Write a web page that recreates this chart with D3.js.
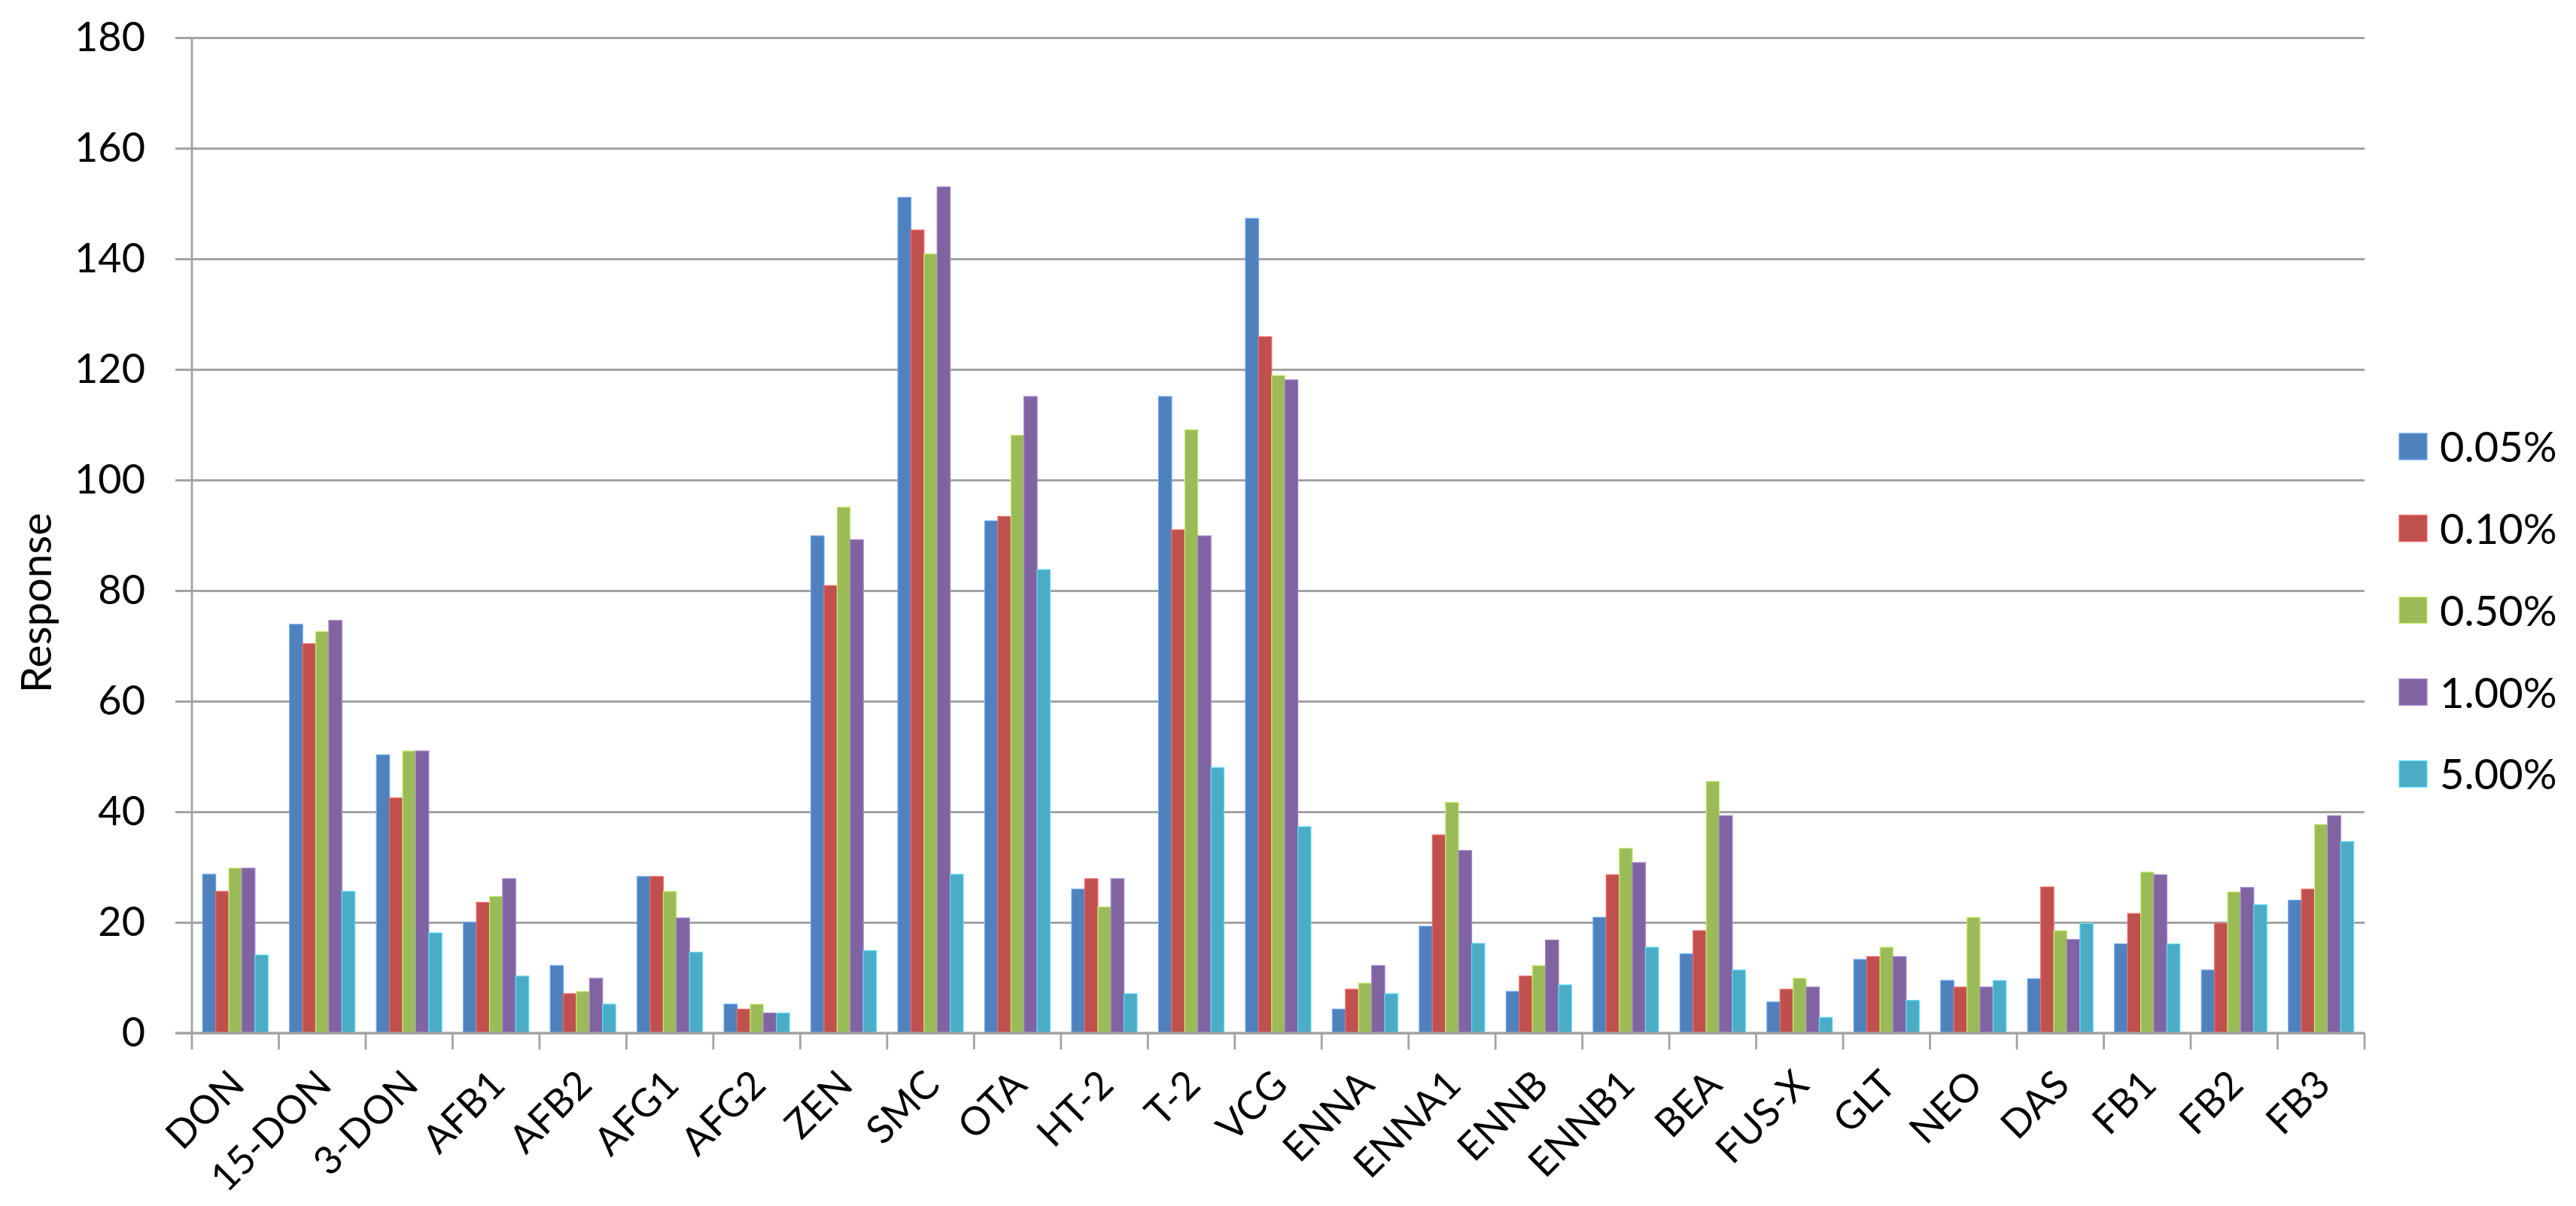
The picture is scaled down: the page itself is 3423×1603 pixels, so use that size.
<!DOCTYPE html>
<html>
<head>
<meta charset="utf-8">
<script src="https://cdn.jsdelivr.net/npm/d3@7"></script>
<style>
  html, body { margin: 0; padding: 0; background: #ffffff; }
  svg { display: block; }
  text { font-family: Lato, "Noto Sans", sans-serif; fill: #000; }
</style>
</head>
<body>
<script>
// ---- data ----
const categories = ["DON","15-DON","3-DON","AFB1","AFB2","AFG1","AFG2","ZEN","SMC","OTA","HT-2","T-2","VCG","ENNA","ENNA1","ENNB","ENNB1","BEA","FUS-X","GLT","NEO","DAS","FB1","FB2","FB3"];
const seriesNames = ["0.05%","0.10%","0.50%","1.00%","5.00%"];
const s005 = [28.7, 73.9, 50.3, 20.0, 12.2, 28.3, 5.2, 89.9, 151.1, 92.6, 26.0, 115.1, 147.3, 4.3, 19.3, 7.5, 20.9, 14.3, 5.6, 13.3, 9.5, 9.8, 16.1, 11.4, 24.0];
const s010 = [25.6, 70.4, 42.5, 23.6, 7.1, 28.3, 4.3, 80.9, 145.2, 93.4, 27.9, 91.0, 125.9, 7.9, 35.8, 10.3, 28.6, 18.5, 7.9, 13.8, 8.3, 26.4, 21.6, 19.8, 26.0];
const s050 = [29.8, 72.6, 51.0, 24.7, 7.5, 25.6, 5.2, 95.1, 140.9, 108.1, 22.8, 109.1, 118.9, 9.0, 41.7, 12.2, 33.4, 45.5, 9.9, 15.5, 20.9, 18.5, 29.1, 25.5, 37.7];
const s100 = [29.8, 74.6, 51.0, 27.9, 9.9, 20.8, 3.6, 89.2, 153.0, 115.1, 27.9, 89.9, 118.1, 12.2, 33.0, 16.8, 30.8, 39.3, 8.3, 13.8, 8.3, 16.9, 28.6, 26.3, 39.3];
const s500 = [14.1, 25.6, 18.1, 10.3, 5.2, 14.6, 3.6, 14.9, 28.7, 83.8, 7.1, 48.0, 37.3, 7.1, 16.2, 8.7, 15.5, 11.4, 2.8, 5.9, 9.5, 19.8, 16.1, 23.2, 34.6];
const yTicks = [0, 20, 40, 60, 80, 100, 120, 140, 160, 180];
const yTitle = "Response";
const colors = ["#4F81BD", "#C0504D", "#9BBB59", "#8064A2", "#4BACC6"];

const seriesValues = [s005, s010, s050, s100, s500];

// ---- layout ----
const W = 3423, H = 1603;
const plot = { left: 255, right: 3142, top: 50, bottom: 1373 };
const gridColor = "#a3a3a3";

const svg = d3.select("body").append("svg").attr("width", W).attr("height", H);
svg.append("rect").attr("width", W).attr("height", H).attr("fill", "#fff");

const y = d3.scaleLinear().domain([0, 180]).range([plot.bottom, plot.top]);
const x = d3.scaleBand().domain(categories).range([plot.left, plot.right]).paddingInner(0).paddingOuter(0);
const x1 = d3.scaleBand().domain(seriesNames).range([0, x.bandwidth()]).paddingInner(0).paddingOuter(0.82);

// gridlines (extending left as tick marks)
const gridG = svg.append("g").attr("transform", `translate(${plot.right},0)`)
  .call(d3.axisLeft(y).tickValues(yTicks).tickSize(plot.right - plot.left + 22).tickFormat(""));
gridG.select(".domain").remove();
gridG.selectAll(".tick line").attr("stroke", gridColor).attr("stroke-width", 2.8);

// y tick labels
const yAx = svg.append("g").attr("transform", `translate(${plot.left},0)`)
  .call(d3.axisLeft(y).tickValues(yTicks).tickSize(0).tickPadding(62));
yAx.select(".domain").remove();
yAx.selectAll("text").attr("font-size", 54).attr("font-family", "Lato, sans-serif").attr("fill", "#000");

// bars
const groups = svg.append("g").selectAll("g").data(categories).join("g")
  .attr("transform", d => `translate(${x(d)},0)`);
groups.selectAll("rect")
  .data((c, i) => seriesNames.map((s, k) => ({ s, k, v: seriesValues[k][i] })))
  .join("rect")
  .attr("x", d => x1(d.s))
  .attr("width", x1.bandwidth())
  .attr("y", d => y(d.v))
  .attr("height", d => y(0) - y(d.v))
  .attr("fill", d => colors[d.k])
  .attr("stroke", d => d3.color(colors[d.k]).brighter(0.7))
  .attr("stroke-width", 1.2);

// y axis line
svg.append("line").attr("x1", plot.left).attr("x2", plot.left)
  .attr("y1", plot.top).attr("y2", plot.bottom)
  .attr("stroke", gridColor).attr("stroke-width", 2.8);

// x axis line
svg.append("line").attr("x1", plot.left - 22).attr("x2", plot.right)
  .attr("y1", plot.bottom).attr("y2", plot.bottom)
  .attr("stroke", gridColor).attr("stroke-width", 2.8);

// x ticks at category boundaries
const bounds = categories.map(c => x(c)).concat([x.range()[1]]);
svg.append("g").selectAll("line").data(bounds).join("line")
  .attr("x1", d => d).attr("x2", d => d)
  .attr("y1", plot.bottom).attr("y2", plot.bottom + 22)
  .attr("stroke", gridColor).attr("stroke-width", 2.8);

// x labels rotated
svg.append("g").selectAll("text").data(categories).join("text")
  .attr("transform", d => `translate(${x(d) + x.bandwidth() / 2 + 15},${plot.bottom + 72}) rotate(-45)`)
  .attr("text-anchor", "end")
  .attr("font-size", 52)
  .text(d => d);

// y axis title
svg.append("text")
  .attr("transform", `translate(68,${(plot.top + plot.bottom) / 2 + 90}) rotate(-90)`)
  .attr("text-anchor", "middle")
  .attr("font-size", 57)
  .text(yTitle);

// legend
const legend = svg.append("g").attr("transform", "translate(3188,594)");
const li = legend.selectAll("g").data(seriesNames).join("g")
  .attr("transform", (d, i) => `translate(0,${i * 108.8})`);
li.append("rect").attr("x", 0).attr("y", -18).attr("width", 37).attr("height", 35)
  .attr("fill", (d, i) => colors[i])
  .attr("stroke", (d, i) => d3.color(colors[i]).brighter(0.7)).attr("stroke-width", 1.2);
li.append("text").attr("x", 54).attr("dy", "0.36em").attr("font-size", 56).text(d => d);
</script>
</body>
</html>
